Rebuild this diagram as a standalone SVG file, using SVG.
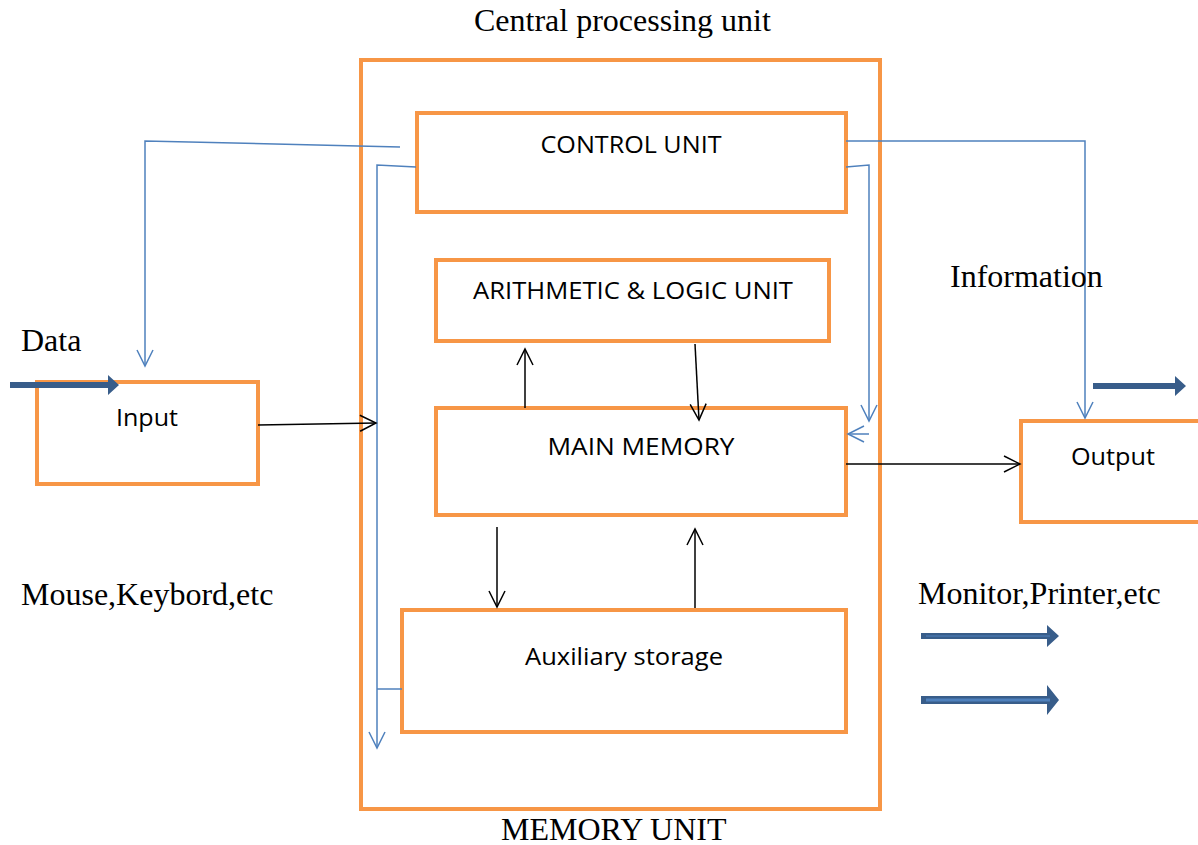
<svg xmlns="http://www.w3.org/2000/svg" width="1198" height="845" viewBox="0 0 1198 845">
<style>
.box{fill:none;stroke:#F79646;stroke-width:4}
.lbl{font-family:"Open Sans","Liberation Sans",sans-serif;font-size:24px;fill:#000;text-anchor:middle}
.ser{font-family:"Liberation Serif","Times New Roman",serif;font-size:32px;fill:#000}
.blue{fill:none;stroke:#4F81BD;stroke-width:1.5}
.blk{fill:none;stroke:#000;stroke-width:1.5}
.fat{fill:#385D8A}
</style>
<defs>
<marker id="ab" viewBox="0 0 20 20" refX="18" refY="10" markerWidth="20" markerHeight="20" markerUnits="userSpaceOnUse" orient="auto">
<path d="M2,2 L18,10 L2,18" fill="none" stroke="#4F81BD" stroke-width="1.5"/>
</marker>
<marker id="ak" viewBox="0 0 20 20" refX="18" refY="10" markerWidth="20" markerHeight="20" markerUnits="userSpaceOnUse" orient="auto">
<path d="M2,2 L18,10 L2,18" fill="none" stroke="#000" stroke-width="1.5"/>
</marker>
</defs>
<rect width="1198" height="845" fill="#fff"/>
<g id="cpu"><rect class="box" x="361" y="60" width="519" height="749"/></g>
<g id="control"><rect class="box" x="417" y="113" width="429" height="99"/><text class="lbl" x="631" y="153" textLength="181" lengthAdjust="spacingAndGlyphs">CONTROL UNIT</text></g>
<g id="alu"><rect class="box" x="436" y="260" width="393" height="81"/><text class="lbl" x="633" y="299" textLength="320" lengthAdjust="spacingAndGlyphs">ARITHMETIC &amp; LOGIC UNIT</text></g>
<g id="mainmem"><rect class="box" x="436" y="408" width="410" height="107"/><text class="lbl" x="641" y="455" textLength="187" lengthAdjust="spacingAndGlyphs">MAIN MEMORY</text></g>
<g id="aux"><rect class="box" x="402" y="610" width="444" height="122"/><text class="lbl" x="624" y="665" textLength="198" lengthAdjust="spacingAndGlyphs">Auxiliary storage</text></g>
<g id="input"><rect class="box" x="37" y="382" width="221" height="102"/><text class="lbl" x="147" y="426" textLength="62" lengthAdjust="spacingAndGlyphs">Input</text></g>
<g id="output"><rect class="box" x="1021" y="421" width="181" height="101"/><text class="lbl" x="1113" y="465" textLength="84" lengthAdjust="spacingAndGlyphs">Output</text></g>
<g id="connectors">
<polyline class="blue" points="400,147 145,141 145,366" marker-end="url(#ab)"/>
<polyline class="blue" points="416,167 377,165 377,748" marker-end="url(#ab)"/>
<line class="blue" x1="377" y1="689" x2="402" y2="689"/>
<polyline class="blue" points="846,141 1085,141 1085,418" marker-end="url(#ab)"/>
<polyline class="blue" points="846,167 869,165 869,421" marker-end="url(#ab)"/>
<line class="blue" x1="869" y1="434" x2="848" y2="434" marker-end="url(#ab)"/>
<line class="blk" x1="258" y1="425" x2="376" y2="423" marker-end="url(#ak)"/>
<line class="blk" x1="525" y1="408" x2="525" y2="349" marker-end="url(#ak)"/>
<line class="blk" x1="695" y1="344" x2="699" y2="420" marker-end="url(#ak)"/>
<line class="blk" x1="846" y1="464" x2="1020" y2="464" marker-end="url(#ak)"/>
<line class="blk" x1="497" y1="527" x2="497" y2="607" marker-end="url(#ak)"/>
<line class="blk" x1="695" y1="608" x2="695" y2="529" marker-end="url(#ak)"/>
<polygon class="fat" points="10,382 108,382 108,375 119,385 108,395 108,388 10,388"/>
<polygon class="fat" points="1093,383 1175,383 1175,376 1186,386 1175,396 1175,389 1093,389"/>
<polygon class="fat" points="921,633 1047,633 1047,625 1059,636 1047,647 1047,639 921,639"/>
<line x1="926" y1="636" x2="1050" y2="636" stroke="#4F81BD" stroke-width="1"/>
<polygon class="fat" points="921,696 1047,696 1047,685 1059,700 1047,715 1047,704 921,704"/>
<line x1="926" y1="700" x2="1050" y2="700" stroke="#4F81BD" stroke-width="3"/>
</g>
<text class="ser" x="474" y="31">Central processing unit</text>
<text class="ser" x="501" y="840">MEMORY UNIT</text>
<text class="ser" x="21" y="351">Data</text>
<text class="ser" x="950" y="287">Information</text>
<text class="ser" x="21" y="605">Mouse,Keybord,etc</text>
<text class="ser" x="918" y="604">Monitor,Printer,etc</text>
</svg>
